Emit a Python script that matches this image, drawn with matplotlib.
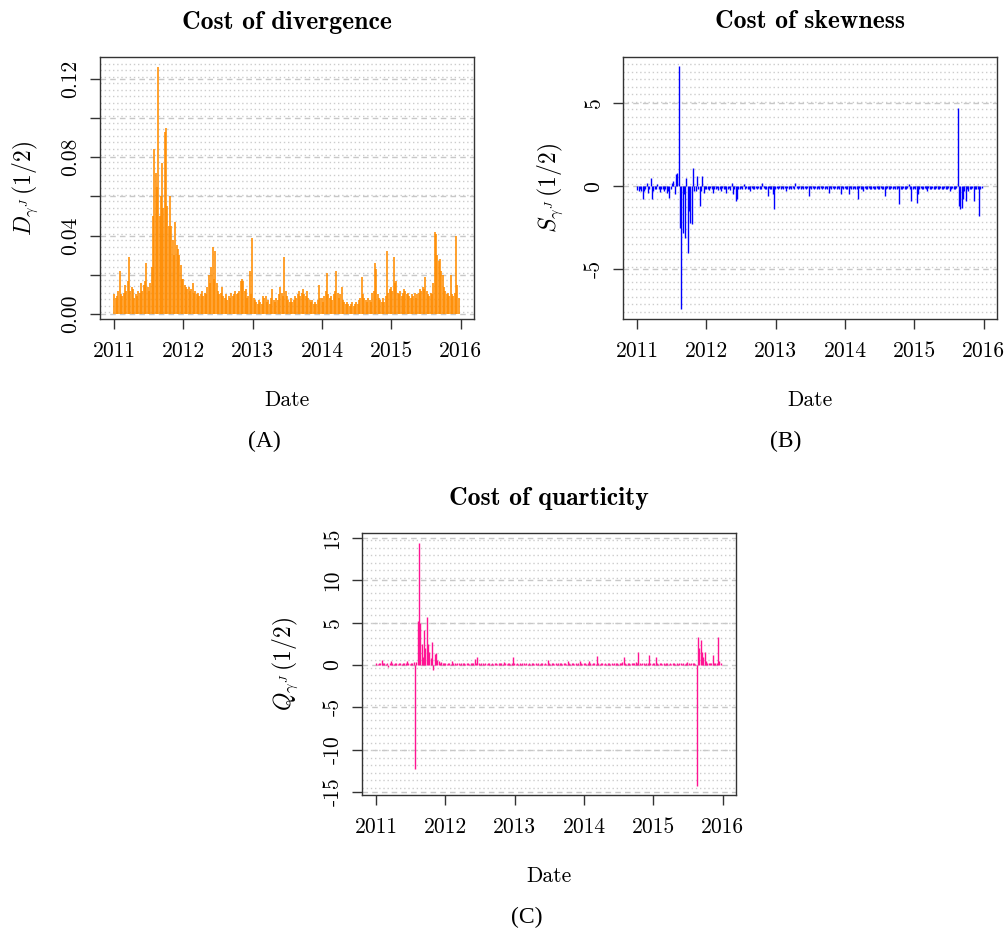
import numpy as np
import pandas as pd
import matplotlib
matplotlib.use("Agg")
import matplotlib.pyplot as plt

plt.rcParams['mathtext.fontset'] = 'cm'
plt.rcParams['axes.unicode_minus'] = False

# ---------------- data (weekly values) ----------------
start_date = "2011-01-03"

div_2011 = [0.010, 0.008, 0.009, 0.012, 0.022, 0.010, 0.009, 0.011, 0.015, 0.012, 0.017, 0.029, 0.012,
            0.014, 0.013, 0.008, 0.010, 0.009, 0.012, 0.011, 0.016, 0.012, 0.015, 0.017, 0.026, 0.014,
            0.012, 0.016, 0.024, 0.050, 0.084, 0.072, 0.065, 0.126, 0.050, 0.060, 0.077, 0.054, 0.093,
            0.095, 0.055, 0.045, 0.060, 0.045, 0.038, 0.030, 0.047, 0.035, 0.033, 0.030, 0.025, 0.018]
div_2012 = [0.018, 0.015, 0.014, 0.013, 0.014, 0.012, 0.013, 0.016, 0.011, 0.012, 0.010, 0.011, 0.009,
            0.010, 0.012, 0.009, 0.011, 0.010, 0.014, 0.020, 0.016, 0.024, 0.034, 0.018, 0.032, 0.016,
            0.012, 0.010, 0.011, 0.014, 0.009, 0.008, 0.010, 0.007, 0.009, 0.008, 0.011, 0.009, 0.010,
            0.012, 0.010, 0.011, 0.012, 0.017, 0.018, 0.017, 0.012, 0.013, 0.008, 0.009, 0.022, 0.010]
div_2013 = [0.039, 0.008, 0.007, 0.006, 0.005, 0.007, 0.006, 0.005, 0.009, 0.008, 0.009, 0.006, 0.007,
            0.005, 0.008, 0.013, 0.007, 0.006, 0.008, 0.007, 0.010, 0.014, 0.011, 0.009, 0.029, 0.012,
            0.009, 0.007, 0.006, 0.008, 0.006, 0.007, 0.009, 0.008, 0.010, 0.012, 0.009, 0.011, 0.013,
            0.010, 0.009, 0.012, 0.008, 0.007, 0.006, 0.007, 0.005, 0.006, 0.005, 0.007, 0.015, 0.008]
div_2014 = [0.008, 0.006, 0.009, 0.012, 0.021, 0.010, 0.008, 0.009, 0.007, 0.010, 0.012, 0.022, 0.011,
            0.008, 0.010, 0.014, 0.007, 0.006, 0.005, 0.006, 0.005, 0.004, 0.005, 0.006, 0.004, 0.005,
            0.006, 0.005, 0.007, 0.008, 0.019, 0.010, 0.008, 0.007, 0.006, 0.008, 0.007, 0.006, 0.011,
            0.012, 0.026, 0.023, 0.010, 0.008, 0.007, 0.006, 0.008, 0.006, 0.009, 0.032, 0.011, 0.013]
div_2015 = [0.014, 0.012, 0.029, 0.016, 0.017, 0.011, 0.010, 0.012, 0.009, 0.011, 0.013, 0.012, 0.010,
            0.011, 0.009, 0.008, 0.010, 0.009, 0.011, 0.008, 0.010, 0.011, 0.013, 0.012, 0.014, 0.013,
            0.019, 0.012, 0.010, 0.009, 0.011, 0.010, 0.016, 0.042, 0.041, 0.030, 0.027, 0.028, 0.022,
            0.020, 0.014, 0.012, 0.010, 0.011, 0.009, 0.020, 0.010, 0.009, 0.011, 0.040, 0.015, 0.008]

skw_2011 = [-0.25, -0.30, -0.20, -0.30, -0.80, -0.30, -0.20, 0.20, -0.40, -0.20, 0.50, -0.80, -0.30,
            -0.20, -0.15, 0.10, -0.20, -0.35, -0.20, -0.15, -0.30, -0.20, -0.40, -0.30, -0.70, -0.20,
            0.20, 0.30, -0.50, 0.70, 0.80, 7.20, -2.50, -7.40, -2.80, -0.50, -3.10, 0.50, -4.00,
            -1.50, -2.20, -2.30, 1.10, -0.30, -0.30, 0.60, -0.20, -1.20, -0.30, 0.60, -0.40, -0.20]
skw_2012 = [-0.20, -0.15, -0.25, -0.10, -0.20, -0.40, -0.15, -0.20, -0.10, -0.25, -0.15, -0.30, -0.10,
            -0.20, -0.15, -0.40, -0.20, -0.10, -0.25, 0.20, -0.50, -0.20, -0.90, -0.80, -0.20, -0.15,
            -0.10, -0.20, 0.10, -0.15, -0.10, -0.20, -0.15, -0.30, -0.10, -0.15, -0.20, -0.10, -0.15,
            -0.10, -0.20, -0.15, 0.20, -0.10, -0.20, -0.15, -0.60, -0.10, -0.20, -0.15, -0.50, -1.40]
skw_2013 = [-0.15, -0.10, -0.20, -0.10, -0.15, -0.10, -0.20, -0.10, -0.30, -0.10, -0.15, -0.10, -0.20,
            -0.10, -0.15, 0.20, -0.10, -0.15, -0.10, -0.20, -0.10, -0.15, -0.10, -0.20, -0.10, -0.60,
            -0.10, -0.15, -0.10, -0.20, -0.10, -0.15, -0.10, -0.20, -0.10, -0.15, -0.10, -0.20, -0.10,
            -0.15, -0.40, -0.10, -0.20, -0.10, -0.15, -0.10, -0.20, -0.10, -0.15, -0.50, -0.10, -0.20]
skw_2014 = [-0.10, -0.15, -0.20, -0.50, -0.10, -0.20, -0.15, -0.10, -0.20, -0.15, -0.80, -0.10, -0.20,
            -0.15, -0.30, -0.10, -0.20, -0.15, -0.10, -0.20, -0.15, -0.10, -0.20, -0.15, -0.10, -0.20,
            -0.15, -0.10, -0.20, -0.15, -0.60, -0.20, -0.10, -0.15, -0.20, -0.10, -0.15, -0.10, -0.20,
            -0.15, -0.10, -1.10, -0.20, -0.15, -0.10, -0.20, -0.15, -0.10, 0.10, -0.20, -0.90, -0.15]
skw_2015 = [-0.10, -0.20, -1.00, -0.50, -0.15, -0.10, -0.20, -0.15, -0.10, -0.20, -0.30, -0.10, -0.15,
            -0.20, -0.10, -0.15, -0.20, -0.10, -0.15, -0.20, -0.10, -0.15, -0.20, -0.10, -0.15, -0.20,
            -0.10, -0.30, -0.15, -0.10, -0.20, -0.15, -0.10, 4.70, -1.20, -1.40, -1.30, -0.80, -0.30,
            -0.90, -0.20, -0.30, -0.15, -0.20, -0.10, -0.90, -0.20, -0.15, -0.20, -1.80, -0.20, -0.10]

qrt_2011 = [0.20, 0.10, 0.30, 0.20, 0.60, 0.20, 0.30, 0.10, 0.20, -0.20, 0.30, 0.50, 0.20,
            0.10, 0.30, 0.20, 0.10, 0.20, 0.30, 0.10, 0.20, 0.30, 0.20, 0.50, 0.20, 0.10,
            0.30, 0.20, 0.40, -12.30, 0.40, 5.20, 14.40, 5.00, 2.50, 1.00, 4.20, 2.00, 5.70,
            2.50, 1.50, 0.80, 2.70, -0.60, 1.30, 1.40, 0.60, 0.50, 0.30, 0.40, 0.20, 0.30]
qrt_2012 = [0.20, 0.10, 0.30, 0.20, 0.10, 0.50, 0.20, 0.30, 0.10, 0.20, 0.30, 0.10, 0.20,
            0.30, 0.20, 0.10, 0.20, 0.30, 0.10, 0.20, 0.30, 0.20, 0.70, 0.30, 0.90, 0.20,
            0.10, 0.20, 0.30, 0.10, 0.20, 0.10, 0.20, 0.30, 0.10, 0.20, 0.10, 0.20, 0.30,
            0.10, 0.20, 0.30, 0.20, 0.10, 0.40, 0.20, 0.10, 0.20, 0.30, 0.10, 0.20, 1.00]
qrt_2013 = [0.20, 0.10, 0.20, 0.10, 0.20, 0.10, 0.20, 0.30, 0.10, 0.20, 0.10, 0.20, 0.10,
            0.20, 0.30, 0.10, 0.20, 0.10, 0.20, 0.10, 0.20, 0.30, 0.10, 0.20, 0.10, 0.60,
            0.20, 0.10, 0.20, 0.30, 0.10, 0.20, 0.10, 0.20, 0.30, 0.20, 0.10, 0.20, 0.30,
            0.10, 0.50, 0.20, 0.10, 0.20, 0.30, 0.10, 0.20, 0.10, 0.20, 0.50, 0.20, 0.10]
qrt_2014 = [0.20, 0.30, 0.10, 0.20, 0.50, 0.20, 0.10, 0.20, 0.30, 0.10, 1.10, 0.20, 0.10,
            0.20, 0.30, 0.10, 0.20, 0.10, 0.20, 0.30, 0.10, 0.20, 0.10, 0.20, 0.30, 0.20,
            0.10, 0.20, 0.30, 0.40, 1.00, 0.20, 0.10, 0.30, 0.20, 0.10, 0.20, 0.30, 0.20,
            0.40, 0.20, 1.50, 0.20, 0.10, 0.30, 0.20, 0.10, 0.20, 0.30, 1.20, 0.20, 0.10]
qrt_2015 = [0.20, 0.30, 1.00, 0.20, 0.10, 0.20, 0.30, 0.10, 0.20, 0.10, 0.20, 0.30, 0.10,
            0.20, 0.10, 0.20, 0.30, 0.10, 0.20, 0.10, 0.20, 0.30, 0.10, 0.20, 0.10, 0.20,
            0.40, 0.20, 0.10, 0.20, 0.30, 0.20, 0.10, -14.30, 3.30, 2.00, 3.00, 1.50, 1.00,
            1.60, 0.50, 0.30, 0.20, 0.30, 0.20, 1.20, 0.30, 0.20, 0.30, 3.30, 0.50, 0.20]

divergence = div_2011 + div_2012 + div_2013 + div_2014 + div_2015
skewness = skw_2011 + skw_2012 + skw_2013 + skw_2014 + skw_2015
quarticity = qrt_2011 + qrt_2012 + qrt_2013 + qrt_2014 + qrt_2015

year_ticks = [2011, 2012, 2013, 2014, 2015, 2016]


def decimal_years(n):
    d = pd.date_range(start_date, periods=n, freq="7D")
    days = np.where(d.is_leap_year, 366, 365)
    return d.year + (d.dayofyear - 1) / days


# ---------------- figure ----------------
W, H = 1007, 936
fig = plt.figure(figsize=(W / 100, H / 100), dpi=100)


def px_axes(x0, y0, x1, y1):
    return fig.add_axes([x0 / W, 1 - y1 / H, (x1 - x0) / W, (y1 - y0) / H])


TICK_FS = 15.5
CM = 'cmr10'


def style_axes(ax, vals, color, ylim, major, labelled, nminor, title, ylabel, lw):
    xs = decimal_years(len(vals))
    ax.set_xlim(2010.8, 2016.19)
    ax.set_ylim(*ylim)
    # grid: fine dotted lines + dashed at major ticks
    for y in np.linspace(ylim[0], ylim[1], nminor + 1)[1:-1]:
        ax.axhline(y, color='#cccccc', lw=1.0, ls=(0, (1, 2)), zorder=0)
    for y in major:
        ax.axhline(y, color='#c8c8c8', lw=1.0, ls=(0, (4, 3)), zorder=0)
    ax.vlines(xs, 0, vals, color=color, lw=lw, zorder=2)
    ax.set_xticks(year_ticks)
    ax.set_xticklabels([str(y) for y in year_ticks], fontfamily=CM, fontsize=TICK_FS)
    ax.set_yticks(major)
    ax.set_yticklabels([lab for lab in labelled], fontfamily=CM, fontsize=TICK_FS,
                       rotation=90, va='center')
    ax.tick_params(axis='both', direction='out', length=7, width=1.0, colors='#333333',
                   labelcolor='black')
    ax.tick_params(axis='x', pad=9)
    ax.tick_params(axis='y', pad=7)
    for s in ax.spines.values():
        s.set_linewidth(1.0)
        s.set_color('#333333')
    ax.set_xlabel('Date', fontfamily=CM, fontsize=TICK_FS)
    ax.xaxis.set_label_coords(0.5, -(400 - 319) / 262)
    ax.xaxis.label.set_va('center')
    ax.set_ylabel(ylabel, fontsize=17)
    ax.yaxis.set_label_coords(-0.2, 0.5)
    ax.yaxis.label.set_va('center')
    ax.text(0.5, 1 + 35 / 262, title, transform=ax.transAxes, ha='center', va='center',
            fontfamily='cmb10', fontsize=18.5)


axA = px_axes(100, 57, 474, 319)
style_axes(axA, divergence, '#FF8C00', (-0.0025, 0.131),
           [0.0, 0.02, 0.04, 0.06, 0.08, 0.10, 0.12],
           ['0.00', '', '0.04', '', '0.08', '', '0.12'], 40,
           'Cost of divergence', r'$D_{\gamma^{J}}\,(1/2)$', 1.15)

axB = px_axes(623, 57, 997, 319)
style_axes(axB, skewness, '#0000FF', (-8.0, 7.77),
           [-5, 0, 5], ['-5', '0', '5'], 35,
           'Cost of skewness', r'$S_{\gamma^{J}}\,(1/2)$', 1.0)
axB.yaxis.set_label_coords(-0.195, 0.5)

axC = px_axes(362, 533, 736, 795)
style_axes(axC, quarticity, '#FF1493', (-15.35, 15.6),
           [-15, -10, -5, 0, 5, 10, 15], ['-15', '-10', '-5', '0', '5', '10', '15'], 35,
           'Cost of quarticity', r'$Q_{\gamma^{J}}\,(1/2)$', 1.0)
axC.yaxis.set_label_coords(-0.206, 0.5)

cap_font = 'Liberation Serif'
fig.text(264 / W, 1 - 441 / H, '(A)', ha='center', va='center', fontfamily=cap_font, fontsize=17)
fig.text(786 / W, 1 - 441 / H, '(B)', ha='center', va='center', fontfamily=cap_font, fontsize=17)
fig.text(527 / W, 1 - 917 / H, '(C)', ha='center', va='center', fontfamily=cap_font, fontsize=17)

fig.savefig('out.png', dpi=100)
